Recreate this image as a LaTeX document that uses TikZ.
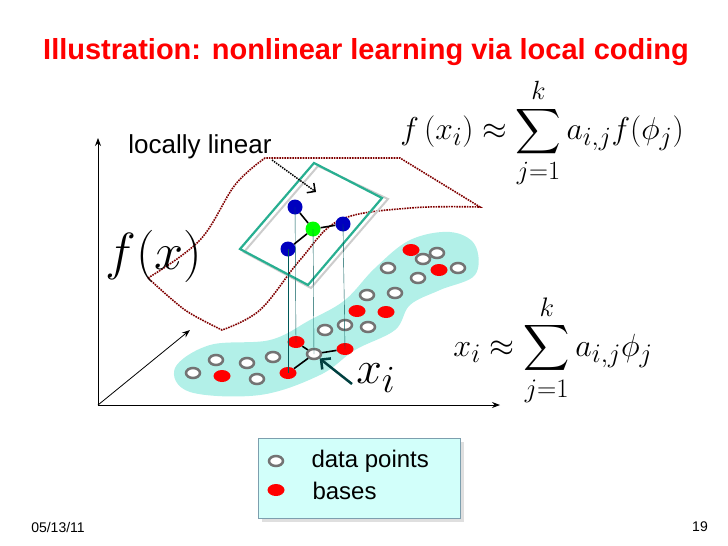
\documentclass[tikz,border=0pt]{standalone}
\usepackage{amsmath}
\usepackage{fontspec}
\setmainfont{Liberation Sans}
\usetikzlibrary{arrows.meta,shadows,shapes.geometric}
\definecolor{blob}{RGB}{178,240,232}
\definecolor{plane}{RGB}{40,175,145}
\definecolor{legf}{RGB}{210,255,250}
\begin{document}
\begin{tikzpicture}[x=1pt,y=-1pt,
  gp/.style={draw=gray!90!black,line width=2.5pt,fill=white,ellipse,minimum width=14pt,minimum height=10pt,inner sep=0pt},
  rp/.style={fill=red,ellipse,minimum width=17pt,minimum height=12pt,inner sep=0pt},
  bp/.style={fill=blue!75!black,circle,minimum size=15pt,inner sep=0pt},
  gl/.style={draw=teal!70!black,thin},
  mathbig/.style={font=\fontsize{24.88}{28}\selectfont,inner sep=0pt}]
\useasboundingbox (0,0) rectangle (728,546);
\node[red,font=\bfseries\fontsize{29}{31}\selectfont] (title) at (366,52) {Illustration: nonlinear learning via local coding};
% axes
\coordinate (o) at (98,405);
\coordinate (ay) at (98,138);
\coordinate (ax) at (500,405);
\coordinate (az) at (190,330);
\draw[-{Stealth[length=8pt]},thick] (o) -- (ay);
\draw[-{Stealth[length=8pt]},thick] (o) -- (ax);
\draw[-{Stealth[length=8pt]},thick] (o) -- (az);
% blob
\fill[blob] plot[smooth cycle,tension=0.6] coordinates {(175,368) (210,345) (270,340) (310,320) (345,300) (375,268) (410,240) (450,232) (475,245) (475,275) (440,290) (410,305) (395,330) (355,350) (320,375) (260,395) (190,392)};
% surface
\draw[densely dotted,line width=1.6pt,red!50!black] plot[smooth,tension=0.6] coordinates {(148,278) (200,240) (235,185) (265,158)} -- (400,158) -- (480,207) -- plot[smooth,tension=0.6] coordinates {(480,207) (410,208) (340,220) (300,260) (260,310) (222,330)} -- plot[smooth] coordinates {(222,330) (185,310) (148,278)};
% planes
\draw[gray!40,line width=2pt] (318,166) -- (388,199) -- (311,288) -- (244,252) -- cycle;
\draw[plane,line width=2.2pt] (314,163) -- (382,198) -- (308,285) -- (240,249) -- cycle;
% points
\foreach \p [count=\i] in {(193,373),(216,360),(247,363),(257,379),(273,357),(325,330),(345,325),(368,327),(367,295),(395,293),(388,268),(418,278),(423,259),(437,253),(458,268)} \node[gp] (g\i) at \p {};
\foreach \p [count=\i] in {(222,376),(357,311),(386,312),(411,250),(439,270)} \node[rp] (r\i) at \p {};
\node[rp] (b1) at (296,342) {};
\node[rp] (b2) at (345,349) {};
\node[rp] (b3) at (288,373) {};
\node[gp] (xc) at (314,354) {};
\node[bp] (u1) at (295,207) {};
\node[bp] (u2) at (343,224) {};
\node[bp] (u3) at (288,249) {};
\node[fill=green,circle,minimum size=15pt,inner sep=0pt] (uc) at (313,229) {};
\draw[gl] (u1.center) -- (b1.center);
\draw[gl] (u2.center) -- (b2.center);
\draw[gl] (u3.center) -- (b3.center);
\draw[gl] (uc.center) -- (xc.center);
\draw[line width=1.6pt] (xc) -- (b1) (xc) -- (b2) (xc) -- (b3);
\draw[line width=1.6pt] (uc) -- (u1) (uc) -- (u2) (uc) -- (u3);
% labels
\node[font=\fontsize{26}{28}\selectfont] (ll) at (200,147) {locally linear};
\coordinate (lla) at (316,192);
\draw[densely dotted,line width=1.5pt,-{Straight Barb[length=6pt]}] (272,160) -- (lla);
\node[mathbig,scale=2.1] (fx) at (154,256) {$f(x)$};
\node[mathbig,scale=1.85] (xi) at (376,378) {$x_i$};
\draw[teal!50!black,line width=2.5pt,-{Straight Barb[length=7pt]}] (352,384) -- (xc);
\node[mathbig,scale=1.27] (eq1) at (542,133) {$f\left(x_i\right)\approx\displaystyle\sum_{j=1}^{k} a_{i,j}f(\phi_j)$};
\node[mathbig,scale=1.29] (eq2) at (553,350) {$x_i\approx\displaystyle\sum_{j=1}^{k} a_{i,j}\phi_j$};
% legend
\node[draw=cyan!30!gray,fill=legf,minimum width=202pt,minimum height=80pt,drop shadow={fill=gray!50,shadow xshift=4pt,shadow yshift=-4pt}] (leg) at (359,478) {};
\node[gp] (lg) at (276,461) {};
\node[rp] (lr) at (276,490) {};
\node[font=\fontsize{24}{26}\selectfont,anchor=west] (t1) at (308,461) {data points};
\node[font=\fontsize{24}{26}\selectfont,anchor=west] (t2) at (309,491) {bases};
\node[font=\fontsize{14}{16}\selectfont] (d) at (58,527) {05/13/11};
\node[font=\fontsize{14}{16}\selectfont] (n) at (700,527) {19};
\end{tikzpicture}
\end{document}
